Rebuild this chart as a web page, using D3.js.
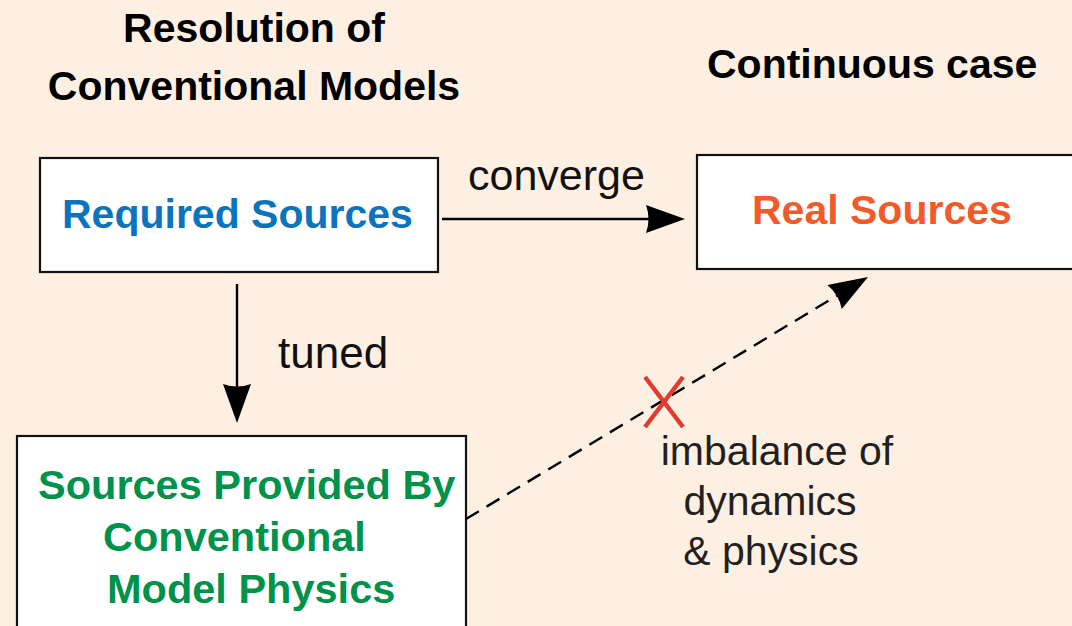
<!DOCTYPE html>
<html>
<head>
<meta charset="utf-8">
<script src="https://cdn.jsdelivr.net/npm/d3@7"></script>
<style>
  body { margin: 0; background: #fdf0e3; }
  svg { display: block; font-family: "Liberation Sans", Arial, Helvetica, sans-serif; }
</style>
</head>
<body>
<div id="diagram"></div>
<script>
// headings
const leftTitle = ['Resolution of', 'Conventional Models'];
const rightTitle = ['Continuous case'];

// box labels
const requiredLabel = ['Required Sources'];
const realLabel = ['Real Sources'];
const providedLabel = ['Sources Provided By', 'Conventional', 'Model Physics'];

// arrow labels
const convergeLabel = ['converge'];
const tunedLabel = ['tuned'];
const imbalanceLabel = ['imbalance of', 'dynamics', '& physics'];

const svgWidth = 1072;
const svgHeight = 626;

const svg = d3.select('#diagram')
    .append('svg')
    .attr('width', svgWidth)
    .attr('height', svgHeight);

svg.append('rect')
    .attr('width', svgWidth)
    .attr('height', svgHeight)
    .attr('fill', '#fdf0e3');

// layout of the three boxes
const boxes = [
    {x: 40, y: 158, w: 398, h: 114},
    {x: 697, y: 155, w: 400, h: 114},
    {x: 17, y: 436, w: 449, h: 220}
];

svg.selectAll('rect.box')
    .data(boxes)
    .enter()
    .append('rect')
    .attr('class', 'box')
    .attr('x', d => d.x)
    .attr('y', d => d.y)
    .attr('width', d => d.w)
    .attr('height', d => d.h)
    .attr('fill', '#ffffff')
    .attr('stroke', '#111')
    .attr('stroke-width', 2.2);

// helper for stacked text lines
function addLines(lines, xs, y0, lineH, opts) {
    svg.append('g')
        .selectAll('text')
        .data(lines)
        .enter()
        .append('text')
        .text(d => d)
        .attr('x', (d, i) => xs[i])
        .attr('y', (d, i) => y0 + i * lineH)
        .attr('text-anchor', opts.anchor || 'start')
        .attr('font-size', opts.size)
        .attr('font-weight', opts.weight || 'normal')
        .attr('fill', opts.color);
}

addLines(leftTitle, [254, 254], 42, 58, {anchor: 'middle', size: 41, weight: 'bold', color: '#000'});
addLines(rightTitle, [707], 78, 0, {size: 41, weight: 'bold', color: '#000'});

addLines(requiredLabel, [62], 228, 0, {size: 41, weight: 'bold', color: '#0b74bd'});
addLines(realLabel, [752], 224, 0, {size: 41, weight: 'bold', color: '#f15a29'});
addLines(providedLabel, [38, 103, 107], 499, 52, {size: 41.5, weight: 'bold', color: '#00924a'});

addLines(convergeLabel, [468], 190, 0, {size: 43, color: '#111'});
addLines(tunedLabel, [278], 368, 0, {size: 44, color: '#111'});
addLines(imbalanceLabel, [777, 770, 771], 465, 50, {anchor: 'middle', size: 41, color: '#231f20'});

// arrows
const arrows = [
    {x1: 442, y1: 219, x2: 685, y2: 219, dash: null},
    {x1: 237, y1: 284, x2: 237, y2: 423, dash: null},
    {x1: 466, y1: 519, x2: 868, y2: 277, dash: '15,9'}
];

const headLen = 39;
const headHalf = 14;

arrows.forEach(a => {
    const ang = Math.atan2(a.y2 - a.y1, a.x2 - a.x1);
    const len = Math.hypot(a.x2 - a.x1, a.y2 - a.y1);
    const g = svg.append('g')
        .attr('transform', `translate(${a.x1},${a.y1}) rotate(${ang * 180 / Math.PI})`);
    g.append('line')
        .attr('x1', 0)
        .attr('y1', 0)
        .attr('x2', len - headLen + 4)
        .attr('y2', 0)
        .attr('stroke', '#000')
        .attr('stroke-width', 2.4)
        .attr('stroke-dasharray', a.dash);
    const p = d3.path();
    p.moveTo(len, 0);
    p.lineTo(len - headLen, -headHalf);
    p.quadraticCurveTo(len - headLen + 5, 0, len - headLen, headHalf);
    p.closePath();
    g.append('path')
        .attr('d', p.toString())
        .attr('fill', '#000');
});

// red cross on the dashed arrow
const cross = {cx: 664, cy: 402, dx: 19, dy: 25};
svg.append('g')
    .selectAll('line')
    .data([1, -1])
    .enter()
    .append('line')
    .attr('x1', d => cross.cx - cross.dx * d)
    .attr('y1', cross.cy - cross.dy)
    .attr('x2', d => cross.cx + cross.dx * d)
    .attr('y2', cross.cy + cross.dy)
    .attr('stroke', '#e03a31')
    .attr('stroke-width', 4.5);
</script>
</body>
</html>
